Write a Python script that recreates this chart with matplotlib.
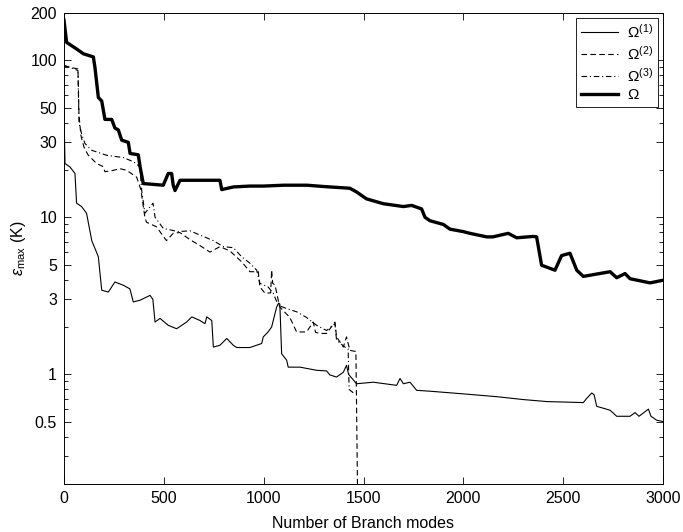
import matplotlib
matplotlib.use("Agg")
import matplotlib.pyplot as plt
import numpy

# Omega (thick)
x_all = [0, 13, 63, 97, 147, 155, 172, 189, 205, 239, 255, 272, 289, 322, 331, 372, 381, 397,
         497, 522, 539, 547, 556, 581, 781, 790, 848, 931, 1000, 1100, 1217, 1300, 1432, 1465,
         1515, 1599, 1700, 1741, 1791, 1808, 1833, 1900, 1933, 2000, 2033, 2117, 2148, 2225,
         2267, 2350, 2367, 2392, 2459, 2492, 2534, 2568, 2601, 2735, 2768, 2810, 2835, 2935, 3000]
y_all = [180, 130, 118, 110, 105, 90, 58, 55, 42, 42, 37, 36, 31, 30, 25.5, 25, 21, 16.4,
         16, 19, 19, 16, 14.8, 17.2, 17.2, 15, 15.6, 15.8, 15.8, 16, 16, 15.7, 15.3, 14.5,
         13.1, 12.2, 11.7, 11.9, 11.3, 10, 9.5, 9.0, 8.4, 8.1, 7.9, 7.5, 7.5, 7.9,
         7.4, 7.55, 7.5, 4.95, 4.6, 5.7, 5.9, 4.6, 4.2, 4.5, 4.12, 4.38, 4.06, 3.82, 3.97]

# Omega(1) (thin solid)
x_1 = [0, 5, 30, 55, 63, 88, 113, 139, 172, 177, 189, 222, 255, 297, 330, 347, 380, 431, 445,
       456, 481, 522, 564, 614, 640, 681, 706, 715, 740, 748, 781, 815, 848, 865, 931, 990, 998,
       1022, 1040, 1048, 1065, 1075, 1081, 1090, 1115, 1123, 1182, 1265, 1315, 1332, 1365, 1399,
       1415, 1425, 1449, 1465, 1549, 1666, 1683, 1700, 1733, 1766, 1833, 2000, 2167, 2300, 2418,
       2601, 2617, 2643, 2655, 2668, 2735, 2768, 2835, 2860, 2880, 2927, 2940, 2968, 3000]
y_1 = [48, 22, 20.9, 19, 12.3, 11.7, 10.6, 7.1, 5.6, 4.83, 3.43, 3.34, 3.87, 3.69, 3.5, 2.89, 2.96, 3.18, 3.0,
       2.15, 2.27, 2.05, 1.95, 2.15, 2.32, 2.2, 2.1, 2.32, 2.2, 1.49, 1.53, 1.69, 1.53, 1.48, 1.48, 1.57, 1.73,
       1.86, 2.0, 2.2, 2.68, 2.84, 2.8, 1.35, 1.23, 1.11, 1.11, 1.06, 1.05, 0.99, 0.96, 1.03,
       1.14, 1.0, 0.92, 0.87, 0.89, 0.85, 0.94, 0.87, 0.89, 0.79, 0.78, 0.75, 0.72, 0.69, 0.67,
       0.66, 0.70, 0.76, 0.74, 0.625, 0.59, 0.54, 0.54, 0.57, 0.54, 0.60, 0.54, 0.51, 0.50]

# Omega(2) (dashed)
x_2 = [0, 70, 75, 85, 100, 120, 163, 197, 205, 247, 280, 314, 364, 385, 405, 413, 463, 513, 547,
       580, 631, 681, 731, 781, 831, 890, 931, 973, 981, 1007, 1035, 1040, 1045, 1057, 1073, 1081,
       1131, 1165, 1215, 1248, 1260, 1282, 1315, 1357, 1365, 1399, 1415, 1432, 1457, 1462, 1470]
y_2 = [92, 88, 45, 33, 28, 25, 22, 21, 19.5, 19.9, 20.4, 19.9, 18, 15, 10, 9.3, 8.7, 7.1, 7.9,
       8.0, 7.2, 6.6, 6.0, 6.5, 6.1, 5.2, 4.5, 4.5, 3.6, 3.28, 3.3, 4.6, 3.8, 3.7, 2.96, 2.68,
       2.3, 1.86, 1.86, 2.15, 1.85, 1.82, 1.82, 2.15, 1.73, 1.49, 1.73, 1.42, 1.4, 1.4, 0.19]

# Omega(3) (dash-dot)
x_3 = [0, 70, 75, 88, 105, 139, 214, 297, 347, 380, 389, 405, 446, 456, 497, 571, 631, 681, 748,
       798, 848, 890, 931, 965, 981, 1022, 1048, 1073, 1115, 1165, 1215, 1265, 1315, 1357, 1365,
       1415, 1423, 1428, 1450]
y_3 = [93, 86, 40, 34, 29.5, 26.7, 24.8, 24, 22.6, 21, 14.9, 10.6, 12.3, 10, 8.5, 8.1, 8.2, 7.7, 7.1,
       6.5, 6.4, 5.6, 5.1, 4.6, 3.8, 3.6, 3.28, 2.75, 2.62, 2.5, 2.3, 2.05, 1.9, 2.1, 1.65,
       1.46, 1.45, 0.8, 0.76]

y_ticks = [0.5, 1, 3, 5, 10, 30, 50, 100, 200]
y_tick_names = ["0.5", "1", "3", "5", "10", "30", "50", "100", "200"]
x_ticks = [0, 500, 1000, 1500, 2000, 2500, 3000]

plt.rcParams["font.family"] = ["Liberation Sans", "DejaVu Sans"]
plt.rcParams["mathtext.fontset"] = "custom"
plt.rcParams["mathtext.rm"] = "Liberation Sans"
plt.rcParams["mathtext.it"] = "Liberation Sans:italic"
plt.rcParams["font.size"] = 11.5

fig = plt.figure(figsize=(6.83, 5.32), dpi=100)
ax = fig.add_axes([64 / 683, (532 - 484) / 532, 599 / 683, 471 / 532])

ax.plot(x_1, y_1, "-", color="k", lw=0.8, label=r"$\Omega^{(1)}$")
ax.plot(x_2, y_2, "--", color="k", lw=0.8, dashes=(5, 3), label=r"$\Omega^{(2)}$")
ax.plot(x_3, y_3, "-.", color="k", lw=0.8, dashes=(5, 2.5, 1, 2.5), label=r"$\Omega^{(3)}$")
ax.plot(x_all, y_all, "-", color="k", lw=2.4, label=r"$\Omega$")

ax.set_yscale("log")
ax.set_xlim(0, 3000)
ax.set_ylim(0.2, 200)
ax.set_xticks(x_ticks)
ax.set_yticks(y_ticks, y_tick_names)
minor = [m * 10.0 ** e for e in range(-1, 3) for m in range(2, 10)]
minor = [v for v in minor if 0.2 <= v <= 200]
ax.set_yticks(minor, minor=True)
ax.yaxis.set_minor_formatter(matplotlib.ticker.NullFormatter())

ax.tick_params(which="both", direction="in", top=True, right=True, width=0.6)
ax.tick_params(which="major", length=5, pad=5)
ax.tick_params(which="minor", length=3)
for s in ax.spines.values():
    s.set_linewidth(0.7)

ax.set_xlabel("Number of Branch modes", labelpad=7)
ax.set_ylabel(r"$\varepsilon_{\mathrm{max}}$ (K)", labelpad=2)

leg = ax.legend(loc="upper right", fancybox=False, edgecolor="k", framealpha=1,
                handlelength=2.4, borderaxespad=0.3, labelspacing=0.25, borderpad=0.35,
                handletextpad=0.6, fontsize=11)
leg.get_frame().set_linewidth(0.6)

fig.savefig("out.png", dpi=100)
